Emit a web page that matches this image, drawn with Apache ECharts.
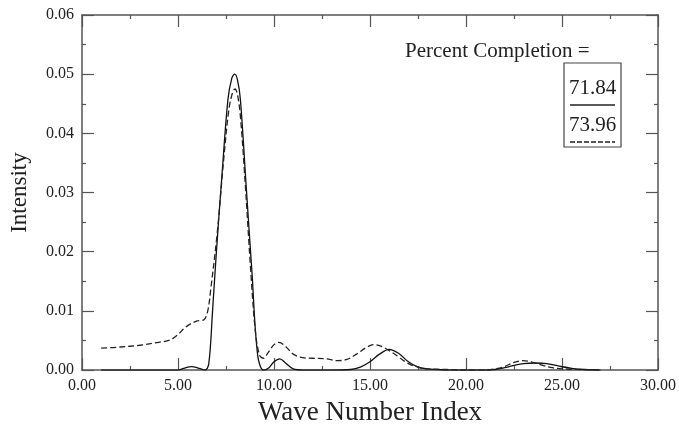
<!DOCTYPE html>
<html>
<head>
<meta charset="utf-8">
<script src="https://cdn.jsdelivr.net/npm/echarts@6/dist/echarts.min.js"></script>
<style>
  html, body { margin: 0; padding: 0; background: #fff; }
  #chart { width: 679px; height: 431px; }
</style>
</head>
<body>
<div id="chart"></div>
<script>
// ---- data ----
const xTicks = [0, 5, 10, 15, 20, 25, 30];
const yTicks = [0, 0.01, 0.02, 0.03, 0.04, 0.05, 0.06];

const solidX = [1, 2, 3, 4, 5, 5.3, 5.7, 6.1, 6.4, 6.6, 6.8, 7.0, 7.3, 7.6, 7.8, 7.95, 8.1, 8.25, 8.55, 8.85, 9.15, 9.45, 9.7, 10.0, 10.3, 10.6, 11.0, 11.5, 12, 13, 14, 14.5, 15.0, 15.5, 16.0, 16.5, 17.0, 17.5, 18, 18.5, 19, 20, 21, 21.5, 22, 22.5, 23, 23.6, 24.2, 24.8, 25.5, 26.2, 27];
const solidY = [0, 0, 0, 0, 0, 0.0003, 0.0006, 0.0003, 0, 0.001, 0.010, 0.020, 0.0334, 0.0457, 0.0493, 0.0500, 0.0490, 0.0457, 0.0311, 0.0166, 0.0025, 0, 0.0003, 0.0014, 0.0019, 0.0012, 0.0002, 0, 0, 0, 0.0001, 0.0005, 0.0014, 0.0027, 0.0035, 0.0028, 0.0014, 0.0005, 0.0002, 0.0001, 0, 0, 0, 0.0001, 0.0004, 0.0008, 0.0011, 0.0012, 0.0011, 0.0007, 0.0003, 0.0001, 0];

const dashedX = [1, 2, 3, 4, 4.6, 5.0, 5.3, 5.65, 6.0, 6.35, 6.55, 6.7, 7.05, 7.38, 7.65, 7.85, 7.97, 8.1, 8.25, 8.51, 8.77, 9.03, 9.25, 9.45, 9.7, 10.0, 10.25, 10.6, 11.0, 11.5, 12, 12.7, 13.3, 13.8, 14.3, 14.8, 15.2, 15.6, 16.0, 16.5, 17.0, 17.5, 18, 19, 20, 21, 21.5, 22, 22.5, 22.95, 23.4, 23.9, 24.5, 25, 26, 27];
const dashedY = [0.0037, 0.0039, 0.0042, 0.0047, 0.0051, 0.006, 0.007, 0.0078, 0.0083, 0.0085, 0.0100, 0.0135, 0.0234, 0.0356, 0.0440, 0.0470, 0.0475, 0.0465, 0.0429, 0.0311, 0.0177, 0.0065, 0.0025, 0.0020, 0.0030, 0.0043, 0.0047, 0.0040, 0.0027, 0.0021, 0.0020, 0.0019, 0.0016, 0.0018, 0.0027, 0.0038, 0.0043, 0.0040, 0.0033, 0.0022, 0.0011, 0.0005, 0.0002, 0.0001, 0, 0, 0.0002, 0.0006, 0.0013, 0.0016, 0.0014, 0.0009, 0.0004, 0.0002, 0.0001, 0];

const annotationTitle = 'Percent Completion =';
const solidLabel = '71.84';
const dashedLabel = '73.96';
// ---------------------------------------

const FONT = '"Liberation Serif", "Times New Roman", serif';
const AXIS_COLOR = '#555';
const TEXT_COLOR = '#222';

const chart = echarts.init(document.getElementById('chart'), null, { renderer: 'canvas' });

function axisCommon(showLabels) {
  return {
    type: 'value',
    axisLine: { show: true, onZero: false, lineStyle: { color: AXIS_COLOR, width: 1.5 } },
    axisTick: { show: true, inside: true, length: 12, lineStyle: { color: AXIS_COLOR, width: 1.2 } },
    minorTick: { show: true, splitNumber: 2, length: 4, lineStyle: { color: AXIS_COLOR, width: 1.2 } },
    splitLine: { show: false },
    minorSplitLine: { show: false },
    axisLabel: {
      show: showLabels,
      color: TEXT_COLOR,
      fontFamily: FONT,
      fontSize: 16,
      formatter: v => v.toFixed(2)
    }
  };
}

const xMin = xTicks[0], xMax = xTicks[xTicks.length - 1], xInt = xTicks[1] - xTicks[0];
const yMin = yTicks[0], yMax = yTicks[yTicks.length - 1], yInt = yTicks[1] - yTicks[0];

const option = {
  animation: false,
  backgroundColor: '#fff',
  grid: { left: 81, right: 20, top: 15, bottom: 59, containLabel: false },
  xAxis: [
    Object.assign(axisCommon(true), {
      position: 'bottom', min: xMin, max: xMax, interval: xInt,
      name: 'Wave Number Index', nameLocation: 'middle', nameGap: 20,
      nameTextStyle: { fontFamily: FONT, fontSize: 27, color: TEXT_COLOR, verticalAlign: 'top' }
    }),
    Object.assign(axisCommon(false), { position: 'top', min: xMin, max: xMax, interval: xInt })
  ],
  yAxis: [
    Object.assign(axisCommon(true), {
      position: 'left', min: yMin, max: yMax, interval: yInt,
      name: 'Intensity', nameLocation: 'middle', nameGap: 51,
      nameTextStyle: { fontFamily: FONT, fontSize: 23, color: TEXT_COLOR }
    }),
    Object.assign(axisCommon(false), { position: 'right', min: yMin, max: yMax, interval: yInt })
  ],
  series: [
    {
      type: 'line', name: 'solid', xAxisIndex: 0, yAxisIndex: 0,
      data: solidX.map((x, i) => [x, solidY[i]]),
      showSymbol: false, smooth: 0.35,
      lineStyle: { color: '#111', width: 1.3, type: 'solid' }
    },
    {
      type: 'line', name: 'dashed', xAxisIndex: 0, yAxisIndex: 0,
      data: dashedX.map((x, i) => [x, dashedY[i]]),
      showSymbol: false, smooth: 0.35,
      lineStyle: { color: '#222', width: 1.3, type: [6, 3] }
    }
  ],
  graphic: [
    {
      type: 'text', left: 405, top: 41,
      style: { text: annotationTitle, font: '21px ' + FONT, fill: TEXT_COLOR }
    },
    {
      type: 'rect', shape: { x: 564, y: 63, width: 57, height: 84 },
      style: { fill: 'none', stroke: '#444', lineWidth: 1.2 }
    },
    {
      type: 'text', x: 592.5, y: 88,
      style: { text: solidLabel, font: '21px ' + FONT, fill: TEXT_COLOR, align: 'center', verticalAlign: 'middle' }
    },
    {
      type: 'line', shape: { x1: 570, y1: 105, x2: 615, y2: 105 },
      style: { stroke: '#222', lineWidth: 1.3 }
    },
    {
      type: 'text', x: 592.5, y: 125,
      style: { text: dashedLabel, font: '21px ' + FONT, fill: TEXT_COLOR, align: 'center', verticalAlign: 'middle' }
    },
    {
      type: 'line', shape: { x1: 570, y1: 142, x2: 615, y2: 142 },
      style: { stroke: '#222', lineWidth: 1.3, lineDash: [5, 2] }
    }
  ]
};

chart.setOption(option);
</script>
</body>
</html>
